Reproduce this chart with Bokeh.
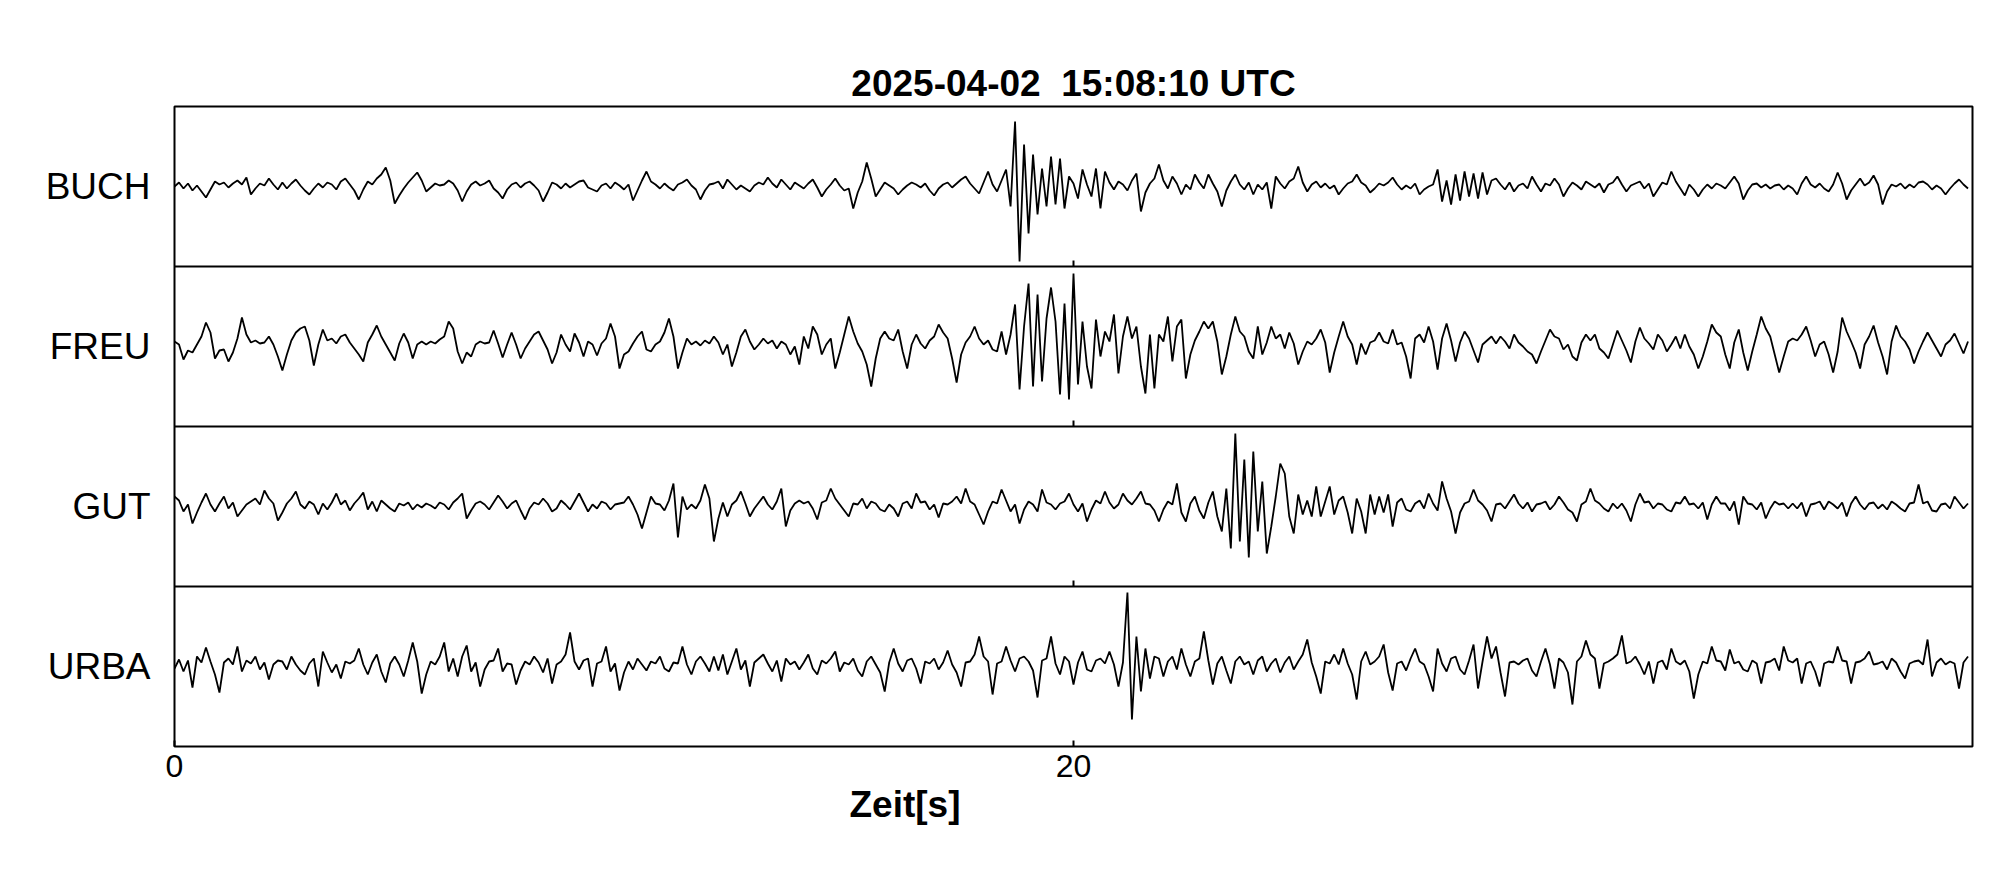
import numpy as np
from bokeh.plotting import figure
from bokeh.models import FixedTicker, Span, Title
from bokeh.embed import file_html
from bokeh.resources import INLINE

# ---------------- data ----------------
title_text = "2025-04-02 \u00a015:08:10 UTC"
x_label_text = "Zeit[s]"
stations = ["BUCH", "FREU", "GUT", "URBA"]
x_ticks = [0, 20]
x_end = 40
dt = 0.1  # seconds between samples

buch = (
    [0, 4, -2, 3, -4, 1, -5, -11, -3, 5, 2, 4, -1, 3, 6, 2, 9, -8, -2, 3]
    + [1, 8, 2, -3, 4, -2, 3, 7, 1, -4, -8, -2, 3, -1, 4, 2, -3, 5, 8, 2]
    + [-4, -13, -3, 5, 2, 8, 12, 19, 6, -17, -9, -2, 4, 9, 14, 6, -5, -1, 3, 1]
    + [2, 6, 3, -4, -15, -5, 2, 5, 1, 3, 6, -2, -6, -12, -3, 2, 4, -1, 3, 5]
    + [1, -4, -15, -6, 4, 2, -2, 3, -1, 2, 5, 6, -1, -3, -5, 1, 3, -2, 4, 1]
    + [-3, 2, -14, -4, 6, 15, 5, 2, -2, 3, -1, -4, 2, 4, 7, 1, -3, -13, -4, 2]
    + [3, 5, -2, 7, 2, -3, 1, -2, -5, 1, 4, 2, 9, 3, -1, 7, 2, -3, 4, 1]
    + [-2, 3, 7, -1, -10, -3, 2, 8, 1, -4, -2, -22, -6, 5, 24, 8, -10, -3, 4, 1]
    + [-2, -8, -3, 1, 4, 2, -1, 3, -4, -9, -2, 2, 4, -1, 3, 7, 10, 3, -2, -7]
    + [4, 15, 2, -5, 6, 17, -20, 65, -75, 42, -47, 32, -28, 18, -20, 30, -18, 28, -22, 10]
    + [3, -12, 17, 2, -10, 18, -22, 15, 4, -3, 5, 2, -4, 6, 13, -25, -6, 3, 8, 22]
    + [6, -2, 10, 3, -8, 2, -3, 12, 4, -2, 12, 3, -5, -20, -4, 5, 12, 2, -3, 4]
    + [-8, 2, -3, 4, -22, 10, 3, -2, 5, 8, 20, 4, -5, 2, 5, -1, 3, -2, 1, -8]
    + [-2, 3, 5, 12, 4, 1, -6, -2, 3, 1, 4, 9, 2, -3, 1, -2, 3, -8, -3, 0]
    + [2, 17, -15, 6, -18, 12, -14, 15, -10, 13, -12, 14, -8, 6, 8, 2, -3, 4, -5, 1]
    + [3, -2, 10, 2, -5, 3, 1, 8, 2, -10, -2, 4, 1, -3, 5, 2, -1, 3, -6, 2]
    + [4, 10, 2, -5, 1, 3, 5, -2, 3, -10, -3, 4, 2, 15, 5, -2, -9, 2, -3, -10]
    + [-3, 2, -2, 3, 1, -2, 4, 10, 3, -13, -4, 2, 3, -1, 2, -2, 1, 2, -3, 1]
    + [-2, -8, 3, 10, 2, -1, 3, -2, -5, 2, 14, 3, -13, -4, 2, 8, 1, 4, 11, 2]
    + [-18, -5, 2, 0, 3, -2, 2, -1, 4, 5, 2, -3, 1, -2, -8, -2, 3, 7, 2, -2]
)

freu = (
    [5, 2, -13, -4, -6, 2, 10, 24, 14, -12, -4, -3, -15, -6, 8, 29, 12, 4, 6, 3]
    + [4, 10, 2, -10, -24, -8, 6, 14, 18, 20, 6, -19, 2, 17, 6, 8, 3, 10, 12, 4]
    + [-2, -8, -15, 4, 12, 21, 10, 2, -6, -14, 3, 13, 4, -12, 2, 5, 2, 5, 3, 7]
    + [10, 25, 18, -5, -17, -6, -10, 2, 5, 3, 4, 16, 3, -11, 2, 14, 2, -12, -2, 5]
    + [12, 15, 6, -3, -17, -6, 12, 2, -5, 13, 4, -10, 5, 2, -9, 3, 8, 23, 10, -22]
    + [-8, -5, 3, 10, 15, -3, -5, 2, 5, 14, 28, 10, -22, -6, 8, 2, 5, 1, 6, 3]
    + [10, 4, -8, 2, -20, -6, 10, 17, 5, -3, 2, 8, 3, 6, -2, 5, 2, -8, 0, -18]
    + [10, -2, 20, 12, -8, 2, 8, -22, -6, 12, 30, 15, 3, -5, -18, -40, -12, 8, 15, 8]
    + [6, 17, -5, -22, 2, 12, 3, -2, 6, 10, 22, 14, 8, -12, -36, -8, 4, 10, 20, 8]
    + [2, 6, -3, -5, 15, -8, 12, 42, -43, 20, 63, -40, 52, -35, 28, 59, 25, -48, 43, -53]
    + [73, -38, 25, -20, -42, 27, -10, 15, 5, 32, -27, 10, 30, 8, 20, -20, -47, 12, -42, 12]
    + [5, 30, -15, 20, 27, -32, -8, 6, 15, 25, 18, 25, 5, -28, -10, 12, 30, 15, 10, -5]
    + [-12, 20, -8, 4, 20, 8, 12, -2, 14, 3, -18, -5, 5, 2, 8, 17, 4, -26, -6, 10]
    + [25, 10, 2, -18, 3, -8, 4, 6, 14, 5, 3, 17, 2, 4, -10, -32, 8, 12, 4, 20]
    + [5, -23, 8, 23, 6, -15, 4, 15, 8, -4, -16, 2, 6, 10, 3, 10, 5, -2, 12, 4]
    + [0, -5, -8, -17, -5, 6, 17, 10, 8, -3, 2, -10, -14, 4, 12, 6, 12, -2, -6, -12]
    + [2, 16, 6, -4, -16, 5, 19, 8, 3, -3, 12, 6, -5, 2, 10, -2, 12, 0, -8, -22]
    + [-10, 5, 22, 14, 10, -8, -22, 4, 17, -6, -24, -5, 12, 30, 18, 10, -8, -26, -10, 5]
    + [8, 6, 12, 20, 6, -10, 2, 5, -8, -26, -5, 29, 15, 5, -6, -22, 2, 10, 21, 4]
    + [-10, -28, 5, 21, 10, 5, -3, -17, -5, 5, 14, 6, -2, -10, 2, 6, 13, 3, -7, 5]
)

gut = (
    [10, 6, -5, 2, -17, -6, 4, 13, 2, -5, 3, 10, -2, 4, -10, -4, 2, 5, 8, 2]
    + [16, 8, 3, -14, -6, 3, 8, 15, 2, -2, 5, 2, -8, 3, -3, 4, 13, 2, 6, -4]
    + [3, 8, 14, -3, 5, -5, 6, 2, -2, -5, 3, 1, 4, -3, 2, -1, 3, 1, -2, 4]
    + [2, -3, 4, 8, 13, -12, -4, 3, 5, 2, -3, 4, 11, 5, -2, 3, 6, -4, -13, -2]
    + [4, 2, 8, 3, -5, -2, 6, 2, -3, 5, 13, 4, -5, 2, -2, 5, 3, -3, 2, 3]
    + [4, 10, 2, -8, -22, -6, 10, 3, 2, -4, 6, 23, -31, 10, -3, 2, -2, 6, 22, 8]
    + [-35, -12, 4, -10, 2, 6, 15, 3, -10, -2, 4, 10, 2, -3, 5, 18, -20, -4, 3, 6]
    + [3, 5, -2, -13, 4, 6, 18, 8, 2, -4, -10, 3, 2, 8, -2, 5, 3, -3, -5, 2]
    + [-2, -10, 3, 5, -2, 13, 4, 5, -3, 2, -11, 3, 2, 5, 10, 3, 18, 5, 2, -8]
    + [-18, -5, 5, 3, 17, 6, -5, 2, -17, -3, 5, 2, -5, 17, 4, 2, -3, 3, 5, 13]
    + [2, -5, 3, -15, -3, 6, 3, 15, 4, -2, 2, 13, 6, 2, 8, 15, 3, 2, -4, -15]
    + [-3, 5, 2, 23, -6, -15, 3, 10, -4, -12, 4, 15, -10, -25, 18, -42, 73, -35, 47, -51]
    + [55, -25, 25, -47, -20, 10, 43, 33, -10, -27, 12, -8, 6, -10, 20, -10, 5, 20, -8, 6]
    + [10, -6, -27, 8, -5, -27, 12, -8, 10, -6, 12, -20, 4, 8, -3, -5, 3, 6, -2, 13]
    + [3, -4, 25, 8, -5, -27, -6, 3, 5, 17, 6, 2, -4, -15, 2, 3, -2, 5, 12, 3]
    + [-2, 4, -5, 2, 3, 5, -3, 2, 10, 4, -3, -6, -15, 2, 5, 18, 6, 3, -2, -5]
    + [3, -2, 3, -4, -15, 2, 13, 4, 5, -2, 3, 2, -3, -5, 4, 3, 10, 2, 3, -2]
    + [4, -13, 2, 10, 3, 3, -4, 5, -18, 10, 3, 2, -3, 4, -12, -2, 5, 2, 3, -2]
    + [3, -2, 4, -10, 2, 3, 5, -3, 5, 2, -2, 4, -10, 3, 10, 2, -3, 3, 4, -2]
    + [2, -3, 5, 2, -2, -5, 3, 4, 22, 3, 5, -4, -5, 2, 3, -2, 10, 4, -2, 3]
)

urba = (
    [-2, 7, -5, 6, -21, 10, 4, 19, 5, -8, -26, 4, 8, 2, 20, -5, 6, 3, 10, -3]
    + [4, -13, 2, 6, 5, -3, 10, 2, -4, -8, 3, 8, -20, 15, 4, -6, 2, -12, 5, 3]
    + [6, 18, 2, -8, 4, 12, -5, -16, 3, 10, 2, -10, 6, 24, 5, -27, -8, 5, 2, 10]
    + [24, -5, 8, -10, 10, 21, -5, 4, -20, -3, 5, 6, 18, -5, 3, 2, -18, -4, 5, 2]
    + [10, 4, -6, 8, -17, 2, 5, 12, 34, 5, -3, 6, 8, -20, 3, 5, 20, -5, 3, -24]
    + [-6, 5, -3, 8, 2, -4, 5, 3, 10, -2, -5, 4, 3, 20, 2, -8, 5, 10, 3, -5]
    + [10, -4, 12, -8, 5, 18, -3, 6, -20, 4, 8, 12, 3, -5, 6, -15, 8, 2, 5, -3]
    + [4, 12, -2, -8, 6, 3, 8, 15, -5, 4, 2, 8, -4, -10, 5, 10, 2, -6, -25, 4]
    + [18, 3, -5, 6, 8, -2, -17, 5, 3, 8, -3, 4, 16, 2, -6, -20, 4, 5, 12, 30]
    + [10, 5, -28, 3, 5, 20, 6, -5, 8, 10, 5, -4, -31, 6, 8, 30, 3, -8, 10, 5]
    + [-18, 4, 15, -3, -5, 6, 8, 3, 15, 2, -20, 4, 74, -53, 30, -25, 18, -12, 10, 8]
    + [-10, 5, 10, -3, 18, 2, -10, 5, 8, 35, 6, -18, 3, 10, -4, -17, 5, 10, 2, 5]
    + [-8, 6, 10, -5, 3, 8, -6, 4, 10, -3, 5, 12, 27, 4, -10, -27, 5, 3, 12, 2]
    + [18, 3, -8, -33, 5, 15, 2, 5, 10, 22, -6, -24, 3, 5, -4, 8, 18, 5, 2, -10]
    + [-25, 18, 3, -5, 8, 10, -3, -8, 6, 22, -22, 5, 30, 8, 20, -6, -30, 4, 5, 2]
    + [6, 8, -4, -10, 5, 18, 2, -22, 8, 4, -6, -38, 5, 10, 26, 12, 8, -22, 3, 5]
    + [8, 12, 31, 3, 5, 10, 2, -8, 5, -17, 4, 6, -3, 18, 5, 2, 6, -5, -32, -8]
    + [5, 3, 20, 6, 5, -4, 17, 3, 5, -3, -5, 6, 3, -17, 4, 5, 8, -4, 20, 6]
    + [4, 8, -17, 3, 5, -5, -20, 3, 5, 4, 20, 6, 5, -17, 4, 5, 8, 15, 2, 3]
    + [5, -3, 8, 4, -5, -12, 3, 5, 6, 2, 27, -10, 4, 8, 2, 5, 3, -22, 4, 10]
)

traces = [buch, freu, gut, urba]

# ---------------- figure ----------------
FRAME_W, FRAME_H = 1798, 640
n = len(stations)
amp_scale = n / FRAME_H  # amplitude units -> panel units
font = "Liberation Sans"

p = figure(frame_width=FRAME_W, frame_height=FRAME_H,
           x_range=(0, x_end), y_range=(0, n),
           output_backend="svg", toolbar_location=None,
           min_border_left=174, min_border_right=26,
           min_border_top=106, min_border_bottom=122,
           background_fill_color="white", border_fill_color="white")

p.title.text = title_text
p.title.align = "center"
p.title.offset = 6
p.title.text_font = font
p.title.text_font_size = "37px"
p.title.text_font_style = "bold"
p.title.text_color = "black"
p.title.standoff = 6

p.outline_line_color = "black"
p.outline_line_width = 2
p.xgrid.visible = False
p.ygrid.visible = False

centers = [n - 0.5 - i for i in range(n)]

# y axis: station names
p.yaxis.ticker = FixedTicker(ticks=centers)
p.yaxis.major_label_overrides = {c: s for c, s in zip(centers, stations)}
p.yaxis.major_label_text_font = font
p.yaxis.major_label_text_font_size = "37px"
p.yaxis.major_label_text_color = "black"
p.yaxis.major_tick_line_color = None
p.yaxis.minor_tick_line_color = None
p.yaxis.axis_line_color = None
p.yaxis.major_label_standoff = 18

# x axis
p.xaxis.ticker = FixedTicker(ticks=x_ticks)
p.xaxis.major_label_text_font = font
p.xaxis.major_label_text_font_size = "32px"
p.xaxis.major_label_text_color = "black"
p.xaxis.major_tick_in = 6
p.xaxis.major_tick_out = 0
p.xaxis.major_tick_line_width = 2
p.xaxis.major_tick_line_color = "black"
p.xaxis.minor_tick_line_color = None
p.xaxis.axis_line_color = None
p.xaxis.major_label_standoff = 8

# x-axis label, placed below the tick labels
p.add_layout(Title(text=x_label_text, align="left", offset=675, standoff=4,
                   text_font=font, text_font_size="37px", text_font_style="bold",
                   text_color="black"), "below")

# panel dividers
for k in range(1, n):
    p.add_layout(Span(location=k, dimension="width", line_color="black", line_width=2))

# inward ticks at panel dividers
inner = [t for t in x_ticks if 0 < t < x_end]
tick_len = 6 * amp_scale
for k in range(1, n):
    p.segment(x0=inner, y0=[k] * len(inner), x1=inner, y1=[k + tick_len] * len(inner),
              line_color="black", line_width=2)

# traces
for c, vals in zip(centers, traces):
    v = np.array(vals, dtype=float)
    x = np.arange(len(v)) * dt
    p.line(x, c + v * amp_scale, line_color="black", line_width=1.8)

open("out.html", "w").write(file_html(p, INLINE))
